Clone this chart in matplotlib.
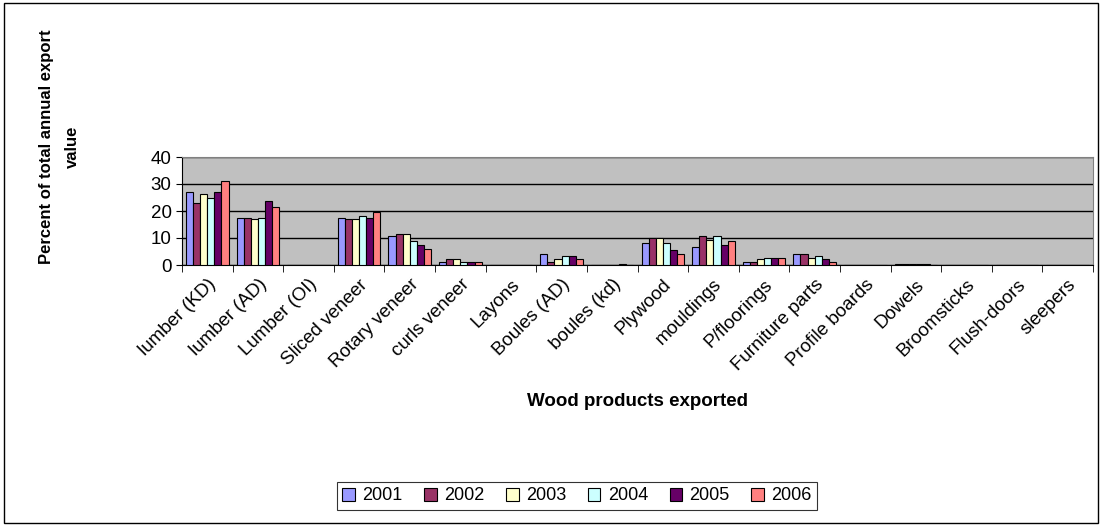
import matplotlib.pyplot as plt
import numpy as np
from matplotlib.patches import Rectangle

categories = ["lumber (KD)", "lumber (AD)", "Lumber (OI)", "Sliced veneer", "Rotary veneer",
              "curls veneer", "Layons", "Boules (AD)", "boules (kd)", "Plywood", "mouldings",
              "P/floorings", "Furniture parts", "Profile boards", "Dowels", "Broomsticks",
              "Flush-doors", "sleepers"]
years = ["2001", "2002", "2003", "2004", "2005", "2006"]
values = {
    "2001": [27, 17.5, 0, 17.5, 10.7, 1.2, 0, 4, 0, 8, 6.6, 1.2, 4, 0, 0.3, 0, 0, 0],
    "2002": [23, 17.5, 0, 17, 11.5, 2.1, 0, 1.2, 0, 10, 10.7, 1.0, 4, 0, 0.3, 0, 0, 0],
    "2003": [26.4, 17, 0, 17, 11.5, 2.1, 0, 2.1, 0, 10, 9.4, 2.1, 2.6, 0, 0.3, 0, 0, 0],
    "2004": [25, 17.5, 0, 18.3, 8.8, 1.2, 0, 3.2, 0, 8, 10.7, 2.6, 3.2, 0, 0.3, 0, 0, 0],
    "2005": [27, 23.6, 0, 17.5, 7.4, 1.2, 0, 3.2, 0.5, 5.4, 7.4, 2.6, 2.1, 0, 0.3, 0, 0, 0],
    "2006": [31, 21.5, 0, 19.6, 5.9, 1.2, 0, 2.1, 0, 4, 8.8, 2.6, 1.2, 0, 0, 0, 0, 0],
}
colors = ["#9999FF", "#993366", "#FFFFCC", "#CCFFFF", "#660066", "#FF8080"]
font = "Liberation Sans"

fig = plt.figure(figsize=(11.02, 5.25), dpi=100)
fig.patches.append(Rectangle((0.004, 0.004), 0.992, 0.99, transform=fig.transFigure,
                             fill=False, edgecolor="black", linewidth=1))
ax = fig.add_axes([182 / 1102, 1 - 265 / 525, (1093 - 182) / 1102, (265 - 157) / 525])
ax.set_facecolor("#C0C0C0")
x = np.arange(len(categories))
w = 0.14
for i, yr in enumerate(years):
    ax.bar(x - 3 * w + w * (i + 0.5), values[yr], w, color=colors[i],
           edgecolor="black", linewidth=0.8, label=yr, zorder=3)
ax.set_xlim(-0.5, len(categories) - 0.5)
ax.set_ylim(0, 40)
ax.set_yticks([0, 10, 20, 30, 40])
ax.yaxis.grid(True, color="black", linewidth=1, zorder=1)
ax.set_xticks(np.arange(len(categories) + 1) - 0.5, minor=True)
ax.set_xticks(x)
ax.set_xticklabels(categories, rotation=45, ha="right", rotation_mode="anchor", fontsize=13.5,
                   fontfamily=font)
ax.tick_params(axis="x", which="major", length=0, pad=8)
ax.tick_params(axis="x", which="minor", length=5)
ax.tick_params(axis="y", labelsize=13.5, length=4)
for lab in ax.get_yticklabels():
    lab.set_fontfamily(font)
for s in ["top", "right"]:
    ax.spines[s].set_color("#808080")
ax.set_xlabel("Wood products exported", fontsize=13.5, fontweight="bold",
              fontfamily=font, labelpad=14)
fig.text(0.054, 0.72, "Percent of total annual export\nvalue", rotation=90, ha="center",
         va="center", fontsize=12, fontweight="bold", fontfamily=font,
         multialignment="center", linespacing=1.9)
leg = fig.legend(loc="center", bbox_to_anchor=(577 / 1102, 1 - 496 / 525), ncol=6,
                 frameon=True, fancybox=False, edgecolor="black",
                 prop={"family": font, "size": 13},
                 handlelength=0.7, handleheight=0.7, columnspacing=1.2,
                 handletextpad=0.4, borderpad=0.3)
leg.get_frame().set_linewidth(0.8)
fig.savefig("out.png")
